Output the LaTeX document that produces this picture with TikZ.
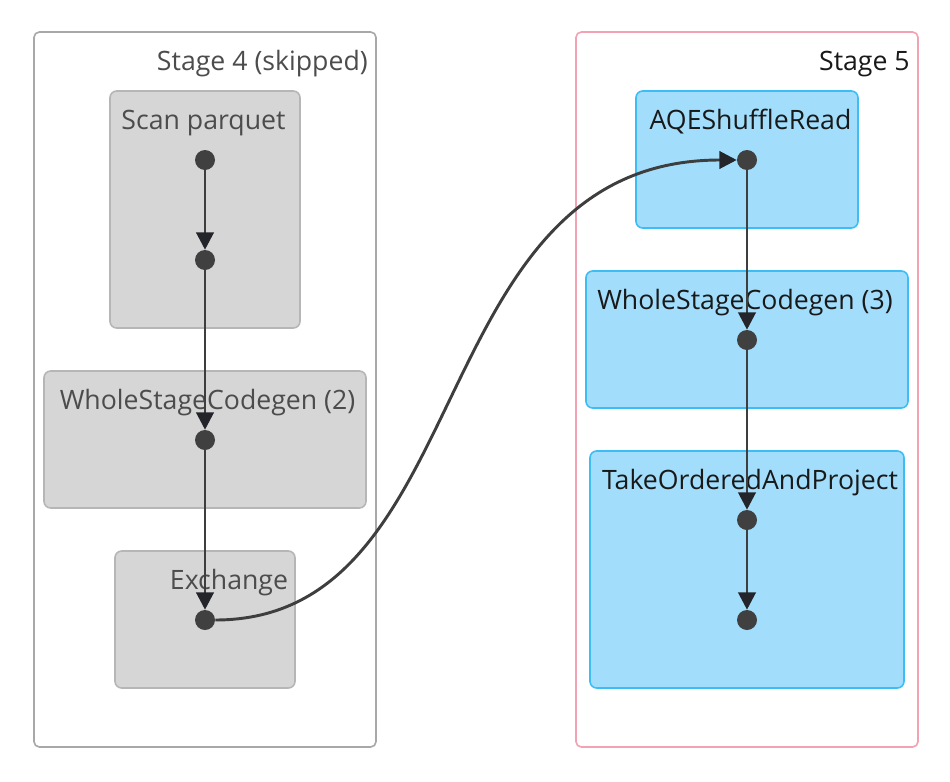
\documentclass[tikz,border=0pt]{standalone}
\usepackage{fontspec}
\setmainfont{Open Sans}
\usepackage{tikz}
\usetikzlibrary{arrows.meta}
\definecolor{skipline}{HTML}{A8A8A8}
\definecolor{liveline}{HTML}{F2A3B3}
\definecolor{grayfill}{HTML}{D6D6D6}
\definecolor{grayline}{HTML}{B6B6B6}
\definecolor{bluefill}{HTML}{A2DEFC}
\definecolor{blueline}{HTML}{3EBDF5}
\definecolor{dotgray}{HTML}{404040}
\definecolor{edgegray}{HTML}{3E3E3E}
\definecolor{tipdark}{HTML}{23252A}

\begin{document}
\begin{tikzpicture}[x=0.75pt,y=-0.75pt,font=\fontsize{20}{24}\selectfont,
  dot/.style={circle,fill=dotgray,inner sep=0pt,minimum size=15pt},
  flow/.style={draw=edgegray,line width=2.2pt,-{Triangle[length=13pt,width=13pt,color=tipdark]}},
  lbl/.style={anchor=base,inner sep=0pt}]
  \useasboundingbox (0,0) rectangle (950,782);
  \fill[white] (0,0) rectangle (950,782);
  \draw[skipline,line width=1.2pt,rounded corners=4pt] (34,32) rectangle (376,747);
  \draw[liveline,line width=1.2pt,rounded corners=4pt] (576,32) rectangle (918,747);
  \filldraw[fill=grayfill,draw=grayline,line width=1.2pt,rounded corners=5pt] (110,91) rectangle (300,328);
  \filldraw[fill=grayfill,draw=grayline,line width=1.2pt,rounded corners=5pt] (44,371) rectangle (366,508);
  \filldraw[fill=grayfill,draw=grayline,line width=1.2pt,rounded corners=5pt] (115,551) rectangle (295,688);
  \filldraw[fill=bluefill,draw=blueline,line width=1.2pt,rounded corners=5pt] (636,91) rectangle (858,228);
  \filldraw[fill=bluefill,draw=blueline,line width=1.2pt,rounded corners=5pt] (586,271) rectangle (908,408);
  \filldraw[fill=bluefill,draw=blueline,line width=1.2pt,rounded corners=5pt] (590,451) rectangle (904,688);
  \node[lbl,anchor=base east,text=black!70] (stage4) at (368,70) {Stage 4 (skipped)};
  \node[lbl,anchor=base east,text=black!90] (stage5) at (910,70) {Stage 5};
  \node[lbl,text=black!70] (scanlbl) at (203.5,129) {Scan parquet};
  \node[lbl,text=black!70] (wsc2lbl) at (207.5,409) {WholeStageCodegen (2)};
  \node[lbl,text=black!70] (exchlbl) at (229,589) {Exchange};
  \node[lbl,text=black!90] (aqelbl) at (750.5,129) {AQEShuffleRead};
  \node[lbl,text=black!90] (wsc3lbl) at (745,309) {WholeStageCodegen (3)};
  \node[lbl,text=black!90] (toaplbl) at (750,489) {TakeOrderedAndProject};
  \node[dot] (scan1) at (205,160) {};
  \node[dot] (scan2) at (205,260) {};
  \node[dot] (wsc2) at (205,440) {};
  \node[dot] (exch) at (205,620) {};
  \node[dot] (aqe) at (747,160) {};
  \node[dot] (wsc3) at (747,340) {};
  \node[dot] (toap1) at (747,520) {};
  \node[dot] (toap2) at (747,620) {};
  \draw[flow] (scan1) -- (scan2);
  \draw[flow] (scan2) -- (wsc2);
  \draw[flow] (wsc2) -- (exch);
  \draw[flow] (exch) .. controls (480,620) and (420,160) .. (aqe);
  \draw[flow] (aqe) -- (wsc3);
  \draw[flow] (wsc3) -- (toap1);
  \draw[flow] (toap1) -- (toap2);
\end{tikzpicture}
\end{document}
